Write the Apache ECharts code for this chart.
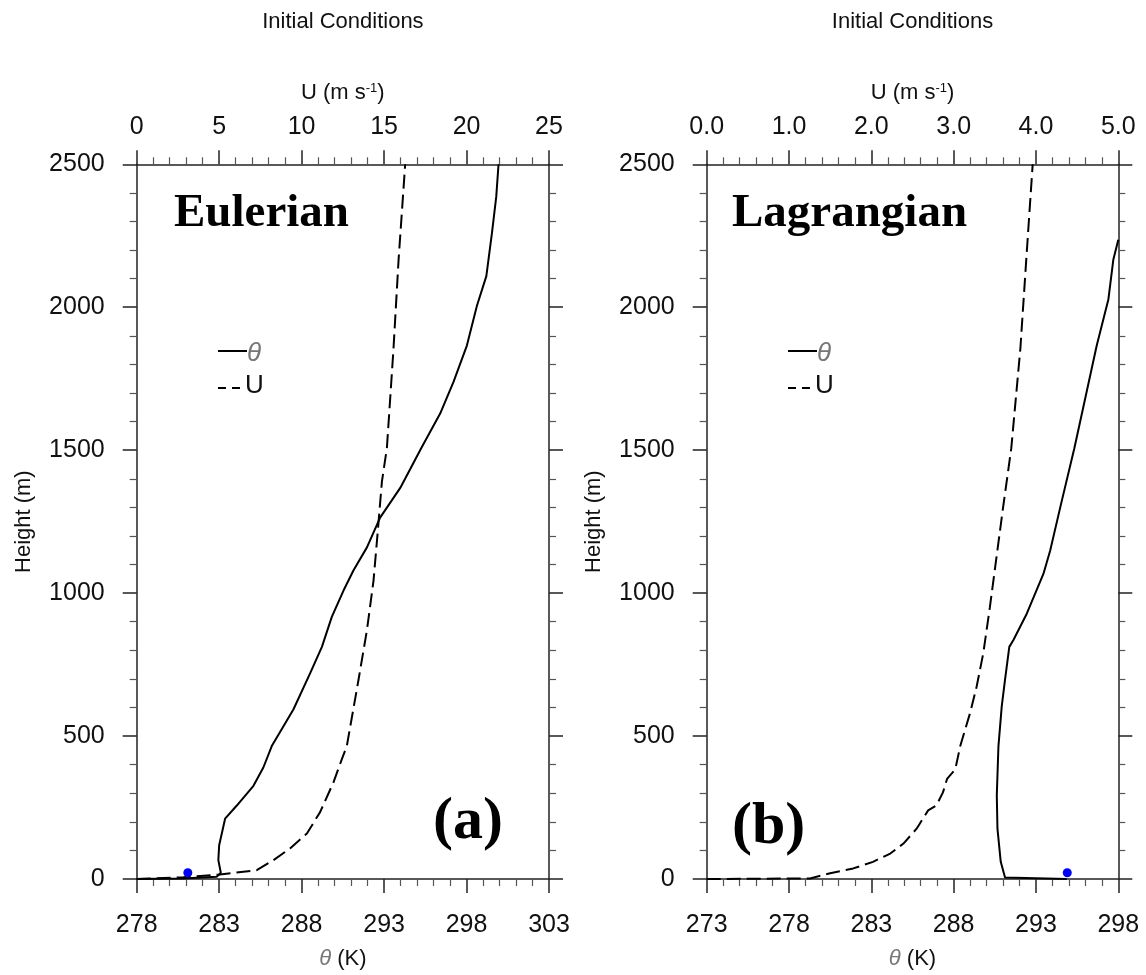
<!DOCTYPE html>
<html>
<head>
<meta charset="utf-8">
<script src="https://cdn.jsdelivr.net/npm/echarts@6/dist/echarts.min.js"></script>
<style>
html,body{margin:0;padding:0;background:#fff;}
#chart{width:1146px;height:975px;}
</style>
</head>
<body>
<div id="chart"></div>
<script>
// ---------- Data ----------
// Panel (a) Eulerian: potential temperature profile (K) vs height (m)
const eulThetaK = [278.0, 280.8, 282.85, 283.1, 282.95, 283.0, 283.36, 284.07, 285.08, 285.68, 286.19, 287.5, 288.52, 289.23, 289.83, 290.54, 291.14, 291.96, 292.76, 293.98, 295.25, 296.4, 297.21, 298.02, 298.63, 299.2, 299.54, 299.8, 299.94];
const eulThetaH = [0, 2, 8, 22, 66, 118, 211, 257, 326, 390, 465, 593, 720, 812, 917, 1009, 1079, 1160, 1264, 1368, 1507, 1628, 1739, 1866, 2005, 2109, 2259, 2386, 2500];
// Panel (a) Eulerian: wind speed U (m/s) vs height (m)
const eulU  = [0, 2.83, 5.05, 7.28, 8.29, 9.3, 10.32, 11.12, 11.93, 12.44, 12.74, 13.45, 13.96, 14.36, 14.62, 14.87, 15.17, 15.57, 15.88, 16.28];
const eulUH = [0, 6, 16, 31, 66, 107, 159, 234, 338, 419, 465, 697, 870, 1044, 1218, 1391, 1507, 1854, 2167, 2500];
// Panel (b) Lagrangian: potential temperature (K) vs height (m)
const lagThetaK = [294.87, 291.12, 290.86, 290.66, 290.62, 290.72, 290.92, 291.12, 291.38, 291.63, 292.44, 293.45, 293.86, 294.47, 295.33, 296.69, 297.4, 297.7, 298.0];
const lagThetaH = [0, 5, 60, 176, 292, 465, 604, 697, 812, 836, 928, 1067, 1148, 1299, 1507, 1866, 2028, 2167, 2236];
// Panel (b) Lagrangian: wind speed U (m/s) vs height (m)
const lagU  = [0, 1.255, 1.5, 1.78, 2.02, 2.23, 2.39, 2.55, 2.69, 2.79, 2.87, 2.92, 3.02, 3.08, 3.14, 3.2, 3.28, 3.36, 3.44, 3.52, 3.6, 3.7, 3.81, 3.89, 3.96];
const lagUH = [0, 2, 20, 37, 60, 89, 124, 176, 240, 257, 303, 350, 384, 465, 523, 581, 674, 790, 951, 1125, 1299, 1507, 1854, 2201, 2500];
// Surface observation markers (theta K, height m)
const eulDot = [281.1, 22];
const lagDot = [294.9, 22];

// Axis ranges / tick labels
const eulThetaRange = [278, 303, 5];
const eulURange = [0, 25, 5];
const lagThetaRange = [273, 298, 5];
const lagURange = [0, 5, 1];
const heightRange = [0, 2500, 500];

const titleText = 'Initial Conditions';
const panelNames = ['Eulerian', 'Lagrangian'];
const panelLetters = ['(a)', '(b)'];

// ---------- Build ----------
const pairs = (xs, ys) => xs.map((v, i) => [v, ys[i]]);
const SANS = '"Liberation Sans", Arial, Helvetica, sans-serif';
const SERIF = '"Liberation Serif", "Times New Roman", serif';
const AX = '#222';

function xAxisDef(grid, pos, range, fmt, name, nameGap, rich) {
  return {
    type: 'value', gridIndex: grid, position: pos,
    min: range[0], max: range[1], interval: range[2],
    name: name, nameLocation: 'middle', nameGap: nameGap,
    nameTextStyle: { fontFamily: SANS, fontSize: 22, color: '#111', rich: rich },
    axisLine: { show: true, onZero: false, lineStyle: { color: AX, width: 1.5 } },
    axisTick: { show: true, inside: false, length: 14, lineStyle: { color: AX, width: 1.5 } },
    minorTick: { show: true, splitNumber: 5, length: 7, lineStyle: { color: '#555', width: 1.2 } },
    axisLabel: { show: true, fontFamily: SANS, fontSize: 25, color: '#111',
      margin: pos === 'top' ? 25 : 34, formatter: fmt, showMinLabel: true, showMaxLabel: true },
    splitLine: { show: false }
  };
}
function yAxisDef(grid, pos, showLabel) {
  return {
    type: 'value', gridIndex: grid, position: pos,
    min: heightRange[0], max: heightRange[1], interval: heightRange[2],
    name: showLabel ? 'Height (m)' : '', nameLocation: 'middle', nameGap: 102,
    nameTextStyle: { fontFamily: SANS, fontSize: 22, color: '#111' },
    axisLine: { show: true, onZero: false, lineStyle: { color: AX, width: 1.5 } },
    axisTick: { show: true, inside: false, length: 14, lineStyle: { color: AX, width: 1.5 } },
    minorTick: { show: true, splitNumber: 5, length: 7, lineStyle: { color: '#555', width: 1.2 } },
    axisLabel: { show: showLabel, fontFamily: SANS, fontSize: 25, color: '#111', margin: 32,
      formatter: v => String(v) },
    splitLine: { show: false }
  };
}

const thetaRich = { t: { fontFamily: SANS, fontSize: 22, fontStyle: 'italic', color: '#777' } };
const uRich = { sup: { fontFamily: SANS, fontSize: 13, verticalAlign: 'top', color: '#111' } };
const thetaName = '{t|θ} (K)';
const uName = 'U (m s{sup|-1})';

const lineStyleSolid = { color: '#000', width: 2 };
const lineStyleDash = { color: '#000', width: 2, type: [14, 6] };

function lineSeries(name, xi, yi, data, style) {
  return { type: 'line', name: name, xAxisIndex: xi, yAxisIndex: yi, data: data,
    showSymbol: false, symbol: 'none', smooth: false, lineStyle: style, clip: true, z: 3 };
}
function dotSeries(xi, yi, pt) {
  return { type: 'scatter', xAxisIndex: xi, yAxisIndex: yi, data: [pt],
    symbolSize: 9, itemStyle: { color: '#0000ff', opacity: 1 }, z: 4 };
}

function legendGraphics(dx) {
  return [
    { type: 'line', shape: { x1: 218 + dx, y1: 351, x2: 247 + dx, y2: 351 }, style: { stroke: '#000', lineWidth: 2 } },
    { type: 'text', x: 247 + dx, y: 354, style: { text: 'θ', font: 'italic 26px ' + SANS, fill: '#777', align: 'left', verticalAlign: 'middle' } },
    { type: 'line', shape: { x1: 218 + dx, y1: 388, x2: 246 + dx, y2: 388 }, style: { stroke: '#000', lineWidth: 2, lineDash: [8, 6] } },
    { type: 'text', x: 245 + dx, y: 386, style: { text: 'U', font: '26px ' + SANS, fill: '#111', align: 'left', verticalAlign: 'middle' } }
  ];
}

const option = {
  animation: false,
  backgroundColor: '#fff',
  grid: [
    { left: 136.7, top: 164.3, width: 412.3, height: 719.7 },
    { left: 706.7, top: 164.3, width: 411.6, height: 719.7 }
  ],
  xAxis: [
    xAxisDef(0, 'bottom', eulThetaRange, v => String(v), thetaName, 69, thetaRich),
    xAxisDef(0, 'top', eulURange, v => String(v), uName, 60, uRich),
    xAxisDef(1, 'bottom', lagThetaRange, v => String(v), thetaName, 69, thetaRich),
    xAxisDef(1, 'top', lagURange, v => v.toFixed(1), uName, 60, uRich)
  ],
  yAxis: [
    yAxisDef(0, 'left', true),
    yAxisDef(0, 'right', false),
    yAxisDef(1, 'left', true),
    yAxisDef(1, 'right', false)
  ],
  series: [
    lineSeries('θ', 0, 0, pairs(eulThetaK, eulThetaH), lineStyleSolid),
    lineSeries('U', 1, 0, pairs(eulU, eulUH), lineStyleDash),
    dotSeries(0, 0, eulDot),
    lineSeries('θ', 2, 2, pairs(lagThetaK, lagThetaH), lineStyleSolid),
    lineSeries('U', 3, 2, pairs(lagU, lagUH), lineStyleDash),
    dotSeries(2, 2, lagDot)
  ],
  graphic: [
    { type: 'text', x: 342.9, y: 21.5, style: { text: titleText, font: '22px ' + SANS, fill: '#111', align: 'center', verticalAlign: 'middle' } },
    { type: 'text', x: 912.5, y: 21.5, style: { text: titleText, font: '22px ' + SANS, fill: '#111', align: 'center', verticalAlign: 'middle' } },
    { type: 'text', x: 174, y: 214, style: { text: panelNames[0], font: 'bold 47px ' + SERIF, fill: '#000', align: 'left', verticalAlign: 'middle' } },
    { type: 'text', x: 732, y: 214, style: { text: panelNames[1], font: 'bold 47px ' + SERIF, fill: '#000', align: 'left', verticalAlign: 'middle' } },
    { type: 'text', x: 433, y: 822, style: { text: panelLetters[0], font: 'bold 60px ' + SERIF, fill: '#000', align: 'left', verticalAlign: 'middle' } },
    { type: 'text', x: 732, y: 827, style: { text: panelLetters[1], font: 'bold 60px ' + SERIF, fill: '#000', align: 'left', verticalAlign: 'middle' } }
  ].concat(legendGraphics(0), legendGraphics(570))
};

const chart = echarts.init(document.getElementById('chart'), null, { renderer: 'canvas' });
chart.setOption(option);
</script>
</body>
</html>
